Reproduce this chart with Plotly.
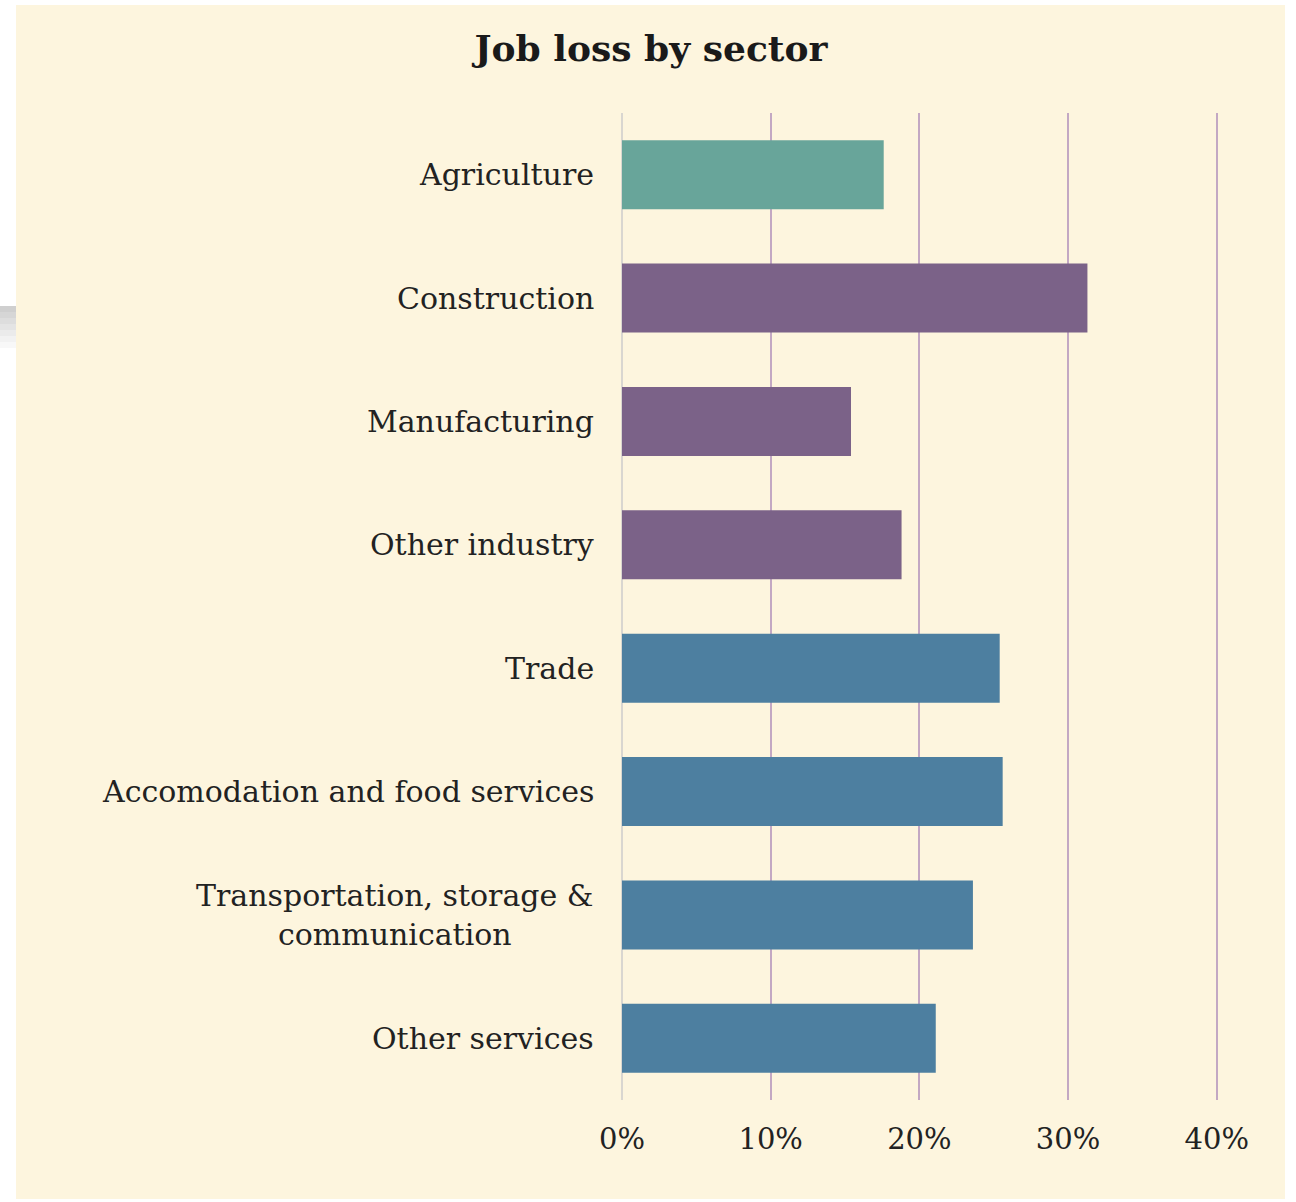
import plotly.graph_objects as go

# Share of jobs lost in each sector (fraction)
sectors = [
    "Agriculture",
    "Construction",
    "Manufacturing",
    "Other industry",
    "Trade",
    "Accomodation and food services",
    "Transportation, storage &<br>communication",
    "Other services",
]
job_loss = [0.176, 0.313, 0.154, 0.188, 0.254, 0.256, 0.236, 0.211]
sector_group = ["agri", "industry", "industry", "industry",
                "services", "services", "services", "services"]

group_colors = {"agri": "#68A59A", "industry": "#7B6288", "services": "#4D7FA0"}
tick_vals = [0, 0.1, 0.2, 0.3, 0.4]
tick_text = ["0%", "10%", "20%", "30%", "40%"]

W, H = 1296, 1202
L, R, T, B = 622, 76, 113, 102
pw, ph = W - L - R, H - T - B
x_max = pw / 1487.0  # keeps the 40% gridline just inside the plot

def px_x(x):
    return (x - L) / pw

def px_y(y):
    return (H - B - y) / ph

cream = "#FDF5DE"
label_font = dict(family="DejaVu Serif", size=30, color="#222222")

fig = go.Figure(
    go.Bar(
        x=job_loss,
        y=sectors,
        orientation="h",
        marker=dict(color=[group_colors[g] for g in sector_group], line=dict(width=0)),
        width=0.56,
        hoverinfo="skip",
    )
)

shapes = [
    # cream card behind the chart
    dict(type="rect", xref="paper", yref="paper",
         x0=px_x(16), x1=px_x(1285), y0=px_y(1199), y1=px_y(5),
         fillcolor=cream, line=dict(width=0), layer="below"),
]
# soft grey shadow at the left edge of the card
shadow = ["#cfcfcf", "#d6d6d6", "#dddddd", "#e4e4e4", "#ebebeb", "#f2f2f2", "#f8f8f8"]
for i, c in enumerate(shadow):
    shapes.append(dict(type="rect", xref="paper", yref="paper",
                       x0=px_x(0), x1=px_x(16),
                       y0=px_y(306 + (i + 1) * 6), y1=px_y(306 + i * 6),
                       fillcolor=c, line=dict(width=0), layer="below"))

annotations = [
    dict(text=s, xref="paper", yref="y", x=px_x(596), y=s,
         xanchor="right", yanchor="middle", align="center",
         showarrow=False, font=label_font)
    for s in sectors
]

fig.update_layout(
    width=W, height=H,
    margin=dict(l=L, r=R, t=T, b=B),
    paper_bgcolor="white",
    plot_bgcolor="rgba(0,0,0,0)",
    showlegend=False,
    title=dict(text="<b>Job loss by sector</b>", xref="container", x=651 / W,
               xanchor="center", yref="container", y=1 - 48 / H, yanchor="middle",
               font=dict(family="DejaVu Serif", size=36, color="#1a1a1a")),
    shapes=shapes,
    annotations=annotations,
    bargap=0.44,
)
fig.update_xaxes(
    range=[0, x_max], tickvals=tick_vals, ticktext=tick_text,
    showgrid=True, gridcolor="#C3A8C3", gridwidth=2,
    zeroline=True, zerolinecolor="#D9D6D0", zerolinewidth=2,
    showline=False, ticks="", ticklabelstandoff=19,
    tickfont=dict(family="DejaVu Serif", size=29, color="#222222"),
    fixedrange=True,
)
fig.update_yaxes(
    autorange="reversed", showticklabels=False, showgrid=False,
    zeroline=False, showline=False, ticks="", fixedrange=True,
)

fig.write_html("out.html", config={"displayModeBar": False})
